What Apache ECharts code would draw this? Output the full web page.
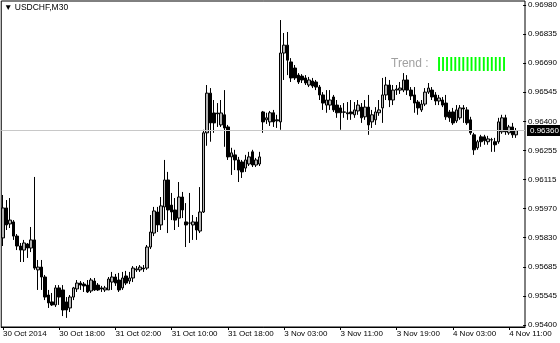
<!DOCTYPE html>
<html><head><meta charset="utf-8">
<script src="https://cdn.jsdelivr.net/npm/echarts@6/dist/echarts.min.js"></script>
<style>html,body{margin:0;padding:0;background:#fff}#c{width:560px;height:343px}</style>
</head><body><div id="c"></div>
<script>
const chartTitle = '\u25BC USDCHF,M30';
const priceTickLabels = ['0.95400','0.95545','0.95685','0.95830','0.95970','0.96115','0.96255','0.96400','0.96545','0.96690','0.96835','0.96980'];
const timeTickLabels = ['30 Oct 2014','30 Oct 18:00','31 Oct 02:00','31 Oct 10:00','31 Oct 18:00','3 Nov 03:00','3 Nov 11:00','3 Nov 19:00','4 Nov 03:00','4 Nov 11:00'];
const barsPerTimeTick = 16;
const currentPrice = 0.96360;
const trendText = 'Trend :';
const trendBars = '|||||||||||||||||';

const opens = [
0.95830,0.95978,0.95899,0.95909,0.95839,0.95790,0.95770,0.95800,0.95780,0.95820,
0.95672,0.95686,0.95637,0.95548,0.95514,0.95499,0.95583,0.95573,0.95514,0.95484,
0.95538,0.95578,0.95607,0.95602,0.95597,0.95568,0.95617,0.95597,0.95583,0.95573,
0.95573,0.95612,0.95637,0.95622,0.95583,0.95642,0.95617,0.95632,0.95672,0.95672,
0.95681,0.95681,0.95785,0.95854,0.95958,0.95894,0.95983,0.96116,0.95992,0.95968,
0.95928,0.96032,0.95909,0.95904,0.95894,0.95909,0.95864,0.95958,0.96349,0.96545,
0.96447,0.96447,0.96388,0.96438,0.96378,0.96230,0.96240,0.96215,0.96205,0.96175,
0.96195,0.96255,0.96190,0.96195,0.96452,0.96413,0.96403,0.96448,0.96413,0.96403,
0.96743,0.96782,0.96699,0.96669,0.96634,0.96629,0.96620,0.96585,0.96605,0.96600,
0.96575,0.96536,0.96486,0.96486,0.96526,0.96486,0.96472,0.96452,0.96448,0.96452,
0.96438,0.96457,0.96476,0.96428,0.96476,0.96403,0.96413,0.96448,0.96472,0.96536,
0.96585,0.96511,0.96560,0.96560,0.96560,0.96610,0.96560,0.96536,0.96501,0.96462,
0.96491,0.96550,0.96560,0.96536,0.96506,0.96511,0.96496,0.96452,0.96452,0.96408,
0.96423,0.96472,0.96462,0.96413,0.96339,0.96275,0.96329,0.96329,0.96305,0.96314,
0.96305,0.96305,0.96354,0.96423,0.96349,0.96378,0.96339];
const closes = [
0.95978,0.95894,0.95918,0.95839,0.95790,0.95770,0.95805,0.95780,0.95820,0.95681,
0.95686,0.95637,0.95538,0.95509,0.95499,0.95583,0.95538,0.95474,0.95474,0.95538,
0.95583,0.95607,0.95597,0.95593,0.95563,0.95622,0.95573,0.95573,0.95578,0.95583,
0.95627,0.95637,0.95607,0.95573,0.95632,0.95607,0.95632,0.95681,0.95677,0.95686,
0.95677,0.95785,0.95859,0.95963,0.95894,0.95988,0.96116,0.95968,0.95958,0.95918,
0.96032,0.95968,0.95894,0.95903,0.95909,0.95869,0.95958,0.96349,0.96545,0.96398,
0.96398,0.96443,0.96447,0.96373,0.96230,0.96250,0.96215,0.96165,0.96156,0.96215,
0.96230,0.96190,0.96215,0.96230,0.96403,0.96423,0.96448,0.96403,0.96408,0.96743,
0.96782,0.96708,0.96620,0.96620,0.96600,0.96610,0.96595,0.96610,0.96580,0.96575,
0.96536,0.96496,0.96511,0.96511,0.96462,0.96448,0.96448,0.96451,0.96443,0.96443,
0.96462,0.96486,0.96423,0.96476,0.96388,0.96438,0.96452,0.96462,0.96536,0.96585,
0.96511,0.96560,0.96565,0.96570,0.96610,0.96560,0.96531,0.96496,0.96472,0.96491,
0.96550,0.96570,0.96526,0.96506,0.96521,0.96486,0.96428,0.96423,0.96398,0.96462,
0.96472,0.96467,0.96398,0.96349,0.96265,0.96305,0.96305,0.96310,0.96319,0.96315,
0.96290,0.96403,0.96423,0.96354,0.96378,0.96339,0.96360];
const lows = [
0.95790,0.95869,0.95879,0.95820,0.95770,0.95711,0.95711,0.95731,0.95760,0.95672,
0.95573,0.95573,0.95523,0.95484,0.95494,0.95489,0.95499,0.95444,0.95435,0.95464,
0.95523,0.95563,0.95573,0.95563,0.95558,0.95558,0.95568,0.95568,0.95563,0.95563,
0.95573,0.95573,0.95593,0.95563,0.95573,0.95597,0.95602,0.95612,0.95662,0.95662,
0.95662,0.95672,0.95775,0.95839,0.95859,0.95869,0.95918,0.95854,0.95918,0.95869,
0.95884,0.95928,0.95785,0.95805,0.95820,0.95820,0.95854,0.95953,0.96285,0.96305,
0.96349,0.96378,0.96378,0.96280,0.96215,0.96141,0.96165,0.96106,0.96126,0.96156,
0.96185,0.96180,0.96180,0.96185,0.96349,0.96393,0.96383,0.96378,0.96373,0.96364,
0.96610,0.96634,0.96600,0.96610,0.96590,0.96595,0.96585,0.96575,0.96570,0.96560,
0.96511,0.96462,0.96448,0.96462,0.96452,0.96423,0.96364,0.96423,0.96413,0.96413,
0.96423,0.96438,0.96398,0.96413,0.96339,0.96373,0.96388,0.96433,0.96398,0.96511,
0.96476,0.96486,0.96536,0.96541,0.96550,0.96536,0.96511,0.96448,0.96438,0.96452,
0.96481,0.96541,0.96511,0.96486,0.96486,0.96476,0.96413,0.96403,0.96388,0.96398,
0.96413,0.96398,0.96388,0.96339,0.96240,0.96265,0.96280,0.96290,0.96290,0.96255,
0.96255,0.96295,0.96344,0.96339,0.96339,0.96324,0.96324];
const highs = [
0.96042,0.96017,0.96027,0.95918,0.95849,0.95805,0.95820,0.95805,0.95884,0.96131,
0.95721,0.95721,0.95647,0.95573,0.95558,0.95597,0.95597,0.95597,0.95538,0.95548,
0.95588,0.95622,0.95617,0.95612,0.95622,0.95632,0.95632,0.95607,0.95593,0.95593,
0.95637,0.95662,0.95652,0.95657,0.95662,0.95667,0.95662,0.95691,0.95691,0.95696,
0.95696,0.95795,0.95943,0.95983,0.95983,0.96032,0.96215,0.96156,0.96052,0.96027,
0.96106,0.96057,0.96002,0.96052,0.95943,0.95933,0.96081,0.96364,0.96585,0.96570,
0.96511,0.96496,0.96511,0.96560,0.96388,0.96275,0.96265,0.96230,0.96215,0.96240,
0.96255,0.96265,0.96225,0.96255,0.96457,0.96448,0.96457,0.96462,0.96438,0.96906,
0.96842,0.96847,0.96718,0.96684,0.96644,0.96639,0.96634,0.96625,0.96620,0.96610,
0.96585,0.96550,0.96560,0.96560,0.96536,0.96511,0.96486,0.96496,0.96501,0.96511,
0.96501,0.96511,0.96496,0.96511,0.96536,0.96462,0.96476,0.96511,0.96620,0.96625,
0.96610,0.96585,0.96585,0.96600,0.96644,0.96634,0.96575,0.96575,0.96511,0.96511,
0.96570,0.96595,0.96575,0.96550,0.96536,0.96526,0.96536,0.96462,0.96472,0.96486,
0.96486,0.96486,0.96476,0.96428,0.96349,0.96314,0.96339,0.96339,0.96334,0.96324,
0.96324,0.96423,0.96438,0.96438,0.96388,0.96398,0.96373];

// bar times (M30), market closed from Friday 23:00 to Monday 00:00
const categories = (function () {
  const out = [];
  let t = Date.UTC(2014, 9, 30, 10, 0);
  for (let i = 0; i < opens.length; i++) {
    const d = new Date(t);
    out.push(d.toISOString().slice(0, 16));
    t += 30 * 60000;
    const n = new Date(t);
    if (n.getUTCDay() === 5 && n.getUTCHours() === 23) t += 49 * 3600000;
  }
  out.push('', '');
  return out;
})();

const candleData = opens.map((o, i) => [o, closes[i], lows[i], highs[i]]);

const FONT = 'Liberation Sans';
const chart = echarts.init(document.getElementById('c'), null, {renderer: 'canvas'});
const tickShown = i => i % barsPerTimeTick === 0 && i / barsPerTimeTick < timeTickLabels.length;

chart.setOption({
  animation: false,
  backgroundColor: '#fff',
  grid: [
    {left: 1, top: 1, right: 35, bottom: 16, show: true, borderColor: '#000', borderWidth: 1, backgroundColor: 'transparent'},
    {left: 1, top: 5, right: 35, bottom: 18, show: false}
  ],
  xAxis: [
    {type: 'category', gridIndex: 0, data: categories, boundaryGap: true,
     axisLine: {show: true, lineStyle: {color: '#000', width: 1}},
     axisTick: {show: true, alignWithLabel: true, length: 3, interval: tickShown, lineStyle: {color: '#000'}},
     axisLabel: {show: true, interval: tickShown, align: 'left', margin: 3, color: '#000',
       fontFamily: FONT, fontSize: 8,
       formatter: (v, i) => timeTickLabels[i / barsPerTimeTick] || ''},
     splitLine: {show: false}},
    {type: 'category', gridIndex: 1, data: categories, show: false}
  ],
  yAxis: [
    {type: 'value', gridIndex: 0, min: 0.95390, max: 0.97000, position: 'left',
     axisLine: {show: false}, axisTick: {show: false}, axisLabel: {show: false}, splitLine: {show: false}},
    {type: 'value', gridIndex: 1, min: 0, max: priceTickLabels.length - 1, interval: 1, position: 'right',
     axisLine: {show: false},
     axisTick: {show: true, length: 3, lineStyle: {color: '#000'}},
     axisLabel: {show: true, margin: 5, color: '#000', fontFamily: FONT, fontSize: 8,
       formatter: v => priceTickLabels[v]},
     splitLine: {show: false}}
  ],
  graphic: [
    {type: 'text', left: 4, top: 3, style: {text: chartTitle, font: '8.5px "Liberation Sans"', fill: '#000'}},
    {type: 'text', x: 391, y: 64, style: {text: trendText, font: '12px "Liberation Sans"', fill: '#a0a0a0', verticalAlign: 'middle'}},
    {type: 'text', x: 437, y: 64, style: {text: trendBars, font: 'bold 14.5px "Liberation Sans"', fill: '#00ff00', verticalAlign: 'middle'}}
  ],
  series: [
    {
      type: 'line', name: 'bid', xAxisIndex: 0, yAxisIndex: 0, data: [], z: 1,
      markLine: {
        silent: true, symbol: 'none', animation: false, precision: 5,
        lineStyle: {color: '#c8c8c8', type: 'solid', width: 1},
        label: {show: true, position: 'end', distance: 2, formatter: currentPrice.toFixed(5),
          color: '#fff', backgroundColor: '#000', fontFamily: FONT, fontSize: 8, padding: [2, 3, 1, 3]},
        data: [{yAxis: currentPrice}]
      }
    },
    {
      type: 'candlestick', name: 'USDCHF',
      xAxisIndex: 0, yAxisIndex: 0, z: 2,
      data: candleData,
      barWidth: 3,
      itemStyle: {color: '#b4b4b4', color0: '#000000', borderColor: '#000000', borderColor0: '#000000', borderWidth: 1}
    }
  ]
});
</script></body></html>
